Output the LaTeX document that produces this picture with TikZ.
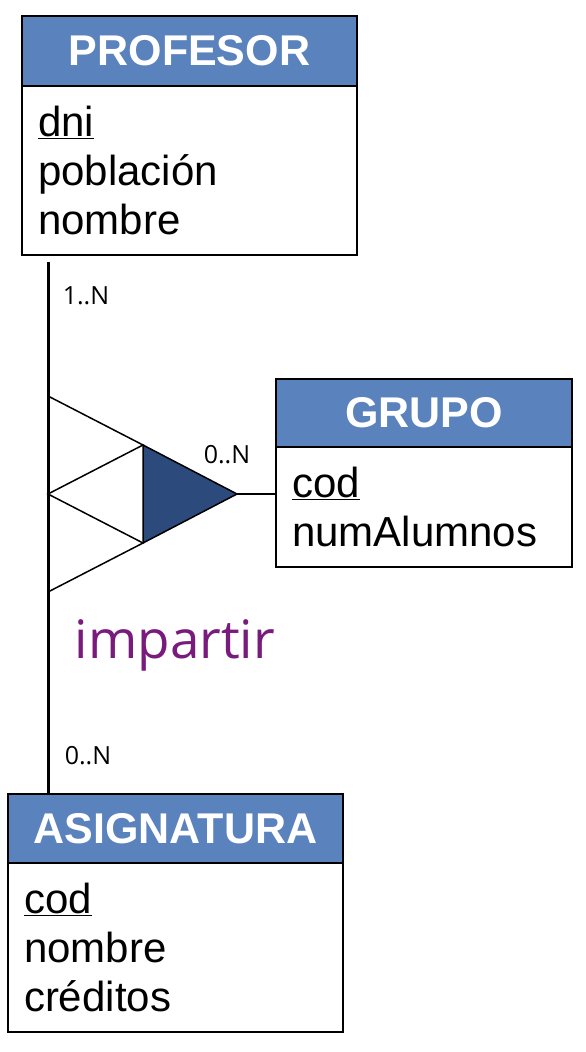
\documentclass[tikz,border=0pt]{standalone}
\usepackage{fontspec}
\setmainfont{Liberation Sans}
\newfontfamily\labfont{Open Sans}
\usetikzlibrary{positioning}
\definecolor{headblue}{RGB}{90,130,189}
\definecolor{tridark}{RGB}{44,75,124}
\definecolor{relpurple}{RGB}{120,27,125}

\begin{document}
\begin{tikzpicture}[
      x=1pt, y=-1pt,
      enthead/.style={rectangle, draw, line width=2pt, fill=headblue, text=white,
                      font=\fontsize{43}{48}\selectfont\bfseries,
                      anchor=north west, outer sep=0pt, inner sep=0pt},
      entbody/.style={rectangle, draw, line width=2pt, fill=white, align=left,
                      font=\fontsize{42}{49}\selectfont,
                      inner xsep=16pt, inner ysep=0pt, outer sep=0pt},
      card/.style={font=\labfont\fontsize{25}{28}\selectfont},
      link/.style={draw, line width=1.5pt}
  ]
      \useasboundingbox (0,0) rectangle (586,1052);

      % entidades
      \node (profH) [enthead, minimum width=335pt, minimum height=70pt]
          at (22,16) {PROFESOR};
      \node (profB) [entbody, below=0pt of profH, text width=303pt,
                     minimum height=169pt]
          {\underline{dni}\\ población\\ nombre};

      \node (grupoH) [enthead, minimum width=296pt, minimum height=68pt]
          at (276,379) {GRUPO};
      \node (grupoB) [entbody, below=0pt of grupoH, text width=264pt,
                      minimum height=120pt]
          {\underline{cod}\\ numAlumnos};

      \node (asigH) [enthead, minimum width=335pt, minimum height=69pt]
          at (8,794) {ASIGNATURA};
      \node (asigB) [entbody, below=0pt of asigH, text width=303pt,
                     minimum height=169pt]
          {\underline{cod}\\ nombre\\ créditos};

      % relacion ternaria
      \coordinate (ltop) at (48,262);
      \draw [line width=3pt] (ltop) -- (asigH.north -| ltop);

      \coordinate (t1)  at (48,396);
      \coordinate (t2)  at (143,445);
      \coordinate (mid) at (48,494);
      \coordinate (t3)  at (143,543);
      \coordinate (t4)  at (48,592);
      \coordinate (tip) at (237,494);
      \draw [link] (t1) -- (t2) -- (mid) -- (t3) -- (t4);
      \draw [link, fill=tridark] (t2) -- (tip) -- (t3) -- cycle;
      \draw [link] (tip) -- (tip -| grupoB.west);

      \node (cprof)  [card] at (86,296)  {1..N};
      \node (cgrupo) [card] at (227,455) {0..N};
      \node (casig)  [card] at (88,756)  {0..N};
      \node (rel) [font=\labfont\fontsize{53}{60}\selectfont, text=relpurple]
          at (175,645) {impartir};
  \end{tikzpicture}
\end{document}
